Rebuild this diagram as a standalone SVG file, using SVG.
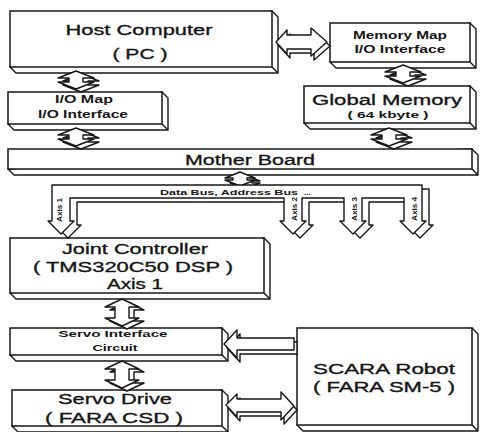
<svg xmlns="http://www.w3.org/2000/svg" xmlns:xlink="http://www.w3.org/1999/xlink" width="480" height="432" viewBox="0 0 480 432">
<style>
.fr{fill:#fff;stroke:#161616;stroke-width:1.5}
.dp{fill:#fff;stroke:#161616;stroke-width:1.4;stroke-linejoin:round}
.af{fill:#fff;stroke:#161616;stroke-width:1.4;stroke-linejoin:round}
.t{font-family:"Liberation Sans",Arial,Helvetica,sans-serif;fill:#151515;text-anchor:middle}
.L{font-size:15.5px;stroke:#151515;stroke-width:0.35}
.S{font-size:10px;font-weight:bold}
.B{font-size:8px;font-weight:bold;text-anchor:start}
.X{font-size:7px;font-weight:bold}
</style>
<defs>
<g id="va">
<path class="af" transform="translate(5,3)" d="M0,0 L18,7 L7,7 L7,11 L18,11 L0,18 L-18,11 L-7,11 L-7,7 L-18,7 Z"/>
<path class="af" d="M0,0 L18,7 L7,7 L7,11 L18,11 L0,18 L-18,11 L-7,11 L-7,7 L-18,7 Z"/>
</g>
<g id="vt">
<path class="af" transform="translate(5,3)" d="M0,0 L17,8 L7,8 L7,19 L17,19 L0,27 L-17,19 L-7,19 L-7,8 L-17,8 Z"/>
<path class="af" d="M0,0 L17,8 L7,8 L7,19 L17,19 L0,27 L-17,19 L-7,19 L-7,8 L-17,8 Z"/>
</g>
<g id="vs">
<path class="af" transform="translate(5,3)" d="M0,0 L15,6 L7,6 L7,8 L15,8 L0,14 L-15,8 L-7,8 L-7,6 L-15,6 Z"/>
<path class="af" d="M0,0 L15,6 L7,6 L7,8 L15,8 L0,14 L-15,8 L-7,8 L-7,6 L-15,6 Z"/>
</g>
</defs>
<rect width="480" height="432" fill="#fff"/>

<g id="host">
<path class="dp" d="M272,11 L278,17 L278,73 L16,73 L10,67 Z"/>
<path class="dp" d="M272,67 L278,73"/>
<rect class="fr" x="10" y="11" width="262" height="56"/>
<text class="t L" x="139" y="35" textLength="147" lengthAdjust="spacingAndGlyphs">Host Computer</text>
<text class="t L" x="140" y="59" textLength="55" lengthAdjust="spacingAndGlyphs">( PC )</text>
</g>

<g id="memmap">
<path class="dp" d="M470,23 L476,29 L476,68 L336,68 L330,62 Z"/>
<path class="dp" d="M470,62 L476,68"/>
<rect class="fr" x="330" y="23" width="140" height="39"/>
<text class="t S" x="400" y="39" textLength="94" lengthAdjust="spacingAndGlyphs">Memory Map</text>
<text class="t S" x="400" y="53" textLength="91" lengthAdjust="spacingAndGlyphs">I/O Interface</text>
</g>

<g id="globalmem">
<path class="dp" d="M470,86 L476,92 L476,129 L310,129 L304,123 Z"/>
<path class="dp" d="M470,123 L476,129"/>
<rect class="fr" x="304" y="86" width="166" height="37"/>
<text class="t L" x="387" y="105" textLength="150" lengthAdjust="spacingAndGlyphs">Global Memory</text>
<text class="t S" x="388" y="118" textLength="81" lengthAdjust="spacingAndGlyphs" style="font-size:9.5px">( 64 kbyte )</text>
</g>

<g id="iomap">
<path class="dp" d="M162,92 L168,98 L168,130 L14,130 L8,124 Z"/>
<path class="dp" d="M162,124 L168,130"/>
<rect class="fr" x="8" y="92" width="154" height="32"/>
<text class="t S" x="84" y="103" textLength="58" lengthAdjust="spacingAndGlyphs">I/O Map</text>
<text class="t S" x="83" y="118" textLength="90" lengthAdjust="spacingAndGlyphs">I/O Interface</text>
</g>

<g id="motherboard">
<path class="dp" d="M472,149 L478,155 L478,175 L14,175 L8,169 Z"/>
<path class="dp" d="M472,169 L478,175"/>
<rect class="fr" x="8" y="149" width="464" height="20"/>
<text class="t L" x="250" y="165" textLength="130" lengthAdjust="spacingAndGlyphs">Mother Board</text>
</g>

<g id="jointctrl">
<path class="dp" d="M264,238 L270,244 L270,299 L16,299 L10,293 Z"/>
<path class="dp" d="M264,293 L270,299"/>
<rect class="fr" x="10" y="238" width="254" height="55"/>
<text class="t L" x="135" y="254" textLength="146" lengthAdjust="spacingAndGlyphs">Joint Controller</text>
<text class="t L" x="133" y="272" textLength="200" lengthAdjust="spacingAndGlyphs">( TMS320C50 DSP )</text>
<text class="t L" x="135" y="289" textLength="56" lengthAdjust="spacingAndGlyphs">Axis 1</text>
</g>

<g id="servoif">
<path class="dp" d="M222,328 L228,334 L228,361 L16,361 L10,355 Z"/>
<path class="dp" d="M222,355 L228,361"/>
<rect class="fr" x="10" y="328" width="212" height="27"/>
<text class="t S" x="113" y="337" textLength="109" lengthAdjust="spacingAndGlyphs" style="font-size:9.5px">Servo Interface</text>
<text class="t S" x="115" y="351" textLength="45" lengthAdjust="spacingAndGlyphs" style="font-size:9.5px">Circuit</text>
</g>

<g id="servodrive">
<path class="dp" d="M222,390 L228,396 L228,432 L18,432 L12,426 Z"/>
<path class="dp" d="M222,426 L228,432"/>
<rect class="fr" x="12" y="390" width="210" height="36"/>
<text class="t L" x="115" y="404" textLength="114" lengthAdjust="spacingAndGlyphs">Servo Drive</text>
<text class="t L" x="114" y="423" textLength="138" lengthAdjust="spacingAndGlyphs">( FARA CSD )</text>
</g>

<g id="scara">
<path class="dp" d="M472,328 L478,334 L478,431 L303,431 L297,425 Z"/>
<path class="dp" d="M472,425 L478,431"/>
<rect class="fr" x="297" y="328" width="175" height="97"/>
<text class="t L" x="384" y="374" textLength="142" lengthAdjust="spacingAndGlyphs">SCARA Robot</text>
<text class="t L" x="384" y="392" textLength="142" lengthAdjust="spacingAndGlyphs">( FARA SM-5 )</text>
</g>

<g id="connectors">
<use xlink:href="#va" href="#va" x="76" y="71"/>
<use xlink:href="#va" href="#va" x="76" y="128"/>
<use xlink:href="#va" href="#va" x="403" y="65"/>
<use xlink:href="#va" href="#va" x="389" y="128"/>
<use xlink:href="#vs" href="#vs" x="240" y="172"/>
<use xlink:href="#vt" href="#vt" x="122" y="299"/>
<use xlink:href="#vt" href="#vt" x="122" y="361"/>

<path class="af" transform="translate(3,4)" d="M276,42 L287,30 L287,35 L311,35 L311,28 L327,42 L311,56 L311,49 L287,49 L287,54 Z"/>
<path class="af" d="M276,42 L287,30 L287,35 L311,35 L311,28 L327,42 L311,56 L311,49 L287,49 L287,54 Z"/>

<path class="af" transform="translate(3,4)" d="M224,344 L237,330 L237,338 L294,338 L294,350 L237,350 L237,358 Z"/>
<path class="af" d="M224,344 L237,330 L237,338 L294,338 L294,350 L237,350 L237,358 Z"/>

<path class="af" transform="translate(3,4)" d="M226,405 L237,394 L237,399 L281,399 L281,392 L294,406 L281,420 L281,412 L237,412 L237,417 Z"/>
<path class="af" d="M226,405 L237,394 L237,399 L281,399 L281,392 L294,406 L281,420 L281,412 L237,412 L237,417 Z"/>

<g id="bus">
<path class="af" transform="translate(7,4)" d="M52,185 L422,185 L422,221 L426,221 L413,234 L400,221 L404,221 L404,198 L362,198 L362,221 L366,221 L353,234 L340,221 L344,221 L344,198 L302,198 L302,221 L306,221 L293,234 L280,221 L284,221 L284,198 L70,198 L70,221 L74,221 L61,234 L48,221 L52,221 Z"/>
<path class="af" d="M52,185 L422,185 L422,221 L426,221 L413,234 L400,221 L404,221 L404,198 L362,198 L362,221 L366,221 L353,234 L340,221 L344,221 L344,198 L302,198 L302,221 L306,221 L293,234 L280,221 L284,221 L284,198 L70,198 L70,221 L74,221 L61,234 L48,221 L52,221 Z"/>
<text class="t B" x="160" y="195" textLength="138" lengthAdjust="spacingAndGlyphs">Data Bus,  Address Bus</text>
<text class="t B" x="304" y="195">...</text>
<text class="t X" transform="translate(62,210) rotate(-90)" textLength="24" lengthAdjust="spacingAndGlyphs">Axis 1</text>
<text class="t X" transform="translate(297,209) rotate(-90)" textLength="24" lengthAdjust="spacingAndGlyphs">Axis 2</text>
<text class="t X" transform="translate(357,209) rotate(-90)" textLength="24" lengthAdjust="spacingAndGlyphs">Axis 3</text>
<text class="t X" transform="translate(417,209) rotate(-90)" textLength="24" lengthAdjust="spacingAndGlyphs">Axis 4</text>
</g>
</g>
</svg>
